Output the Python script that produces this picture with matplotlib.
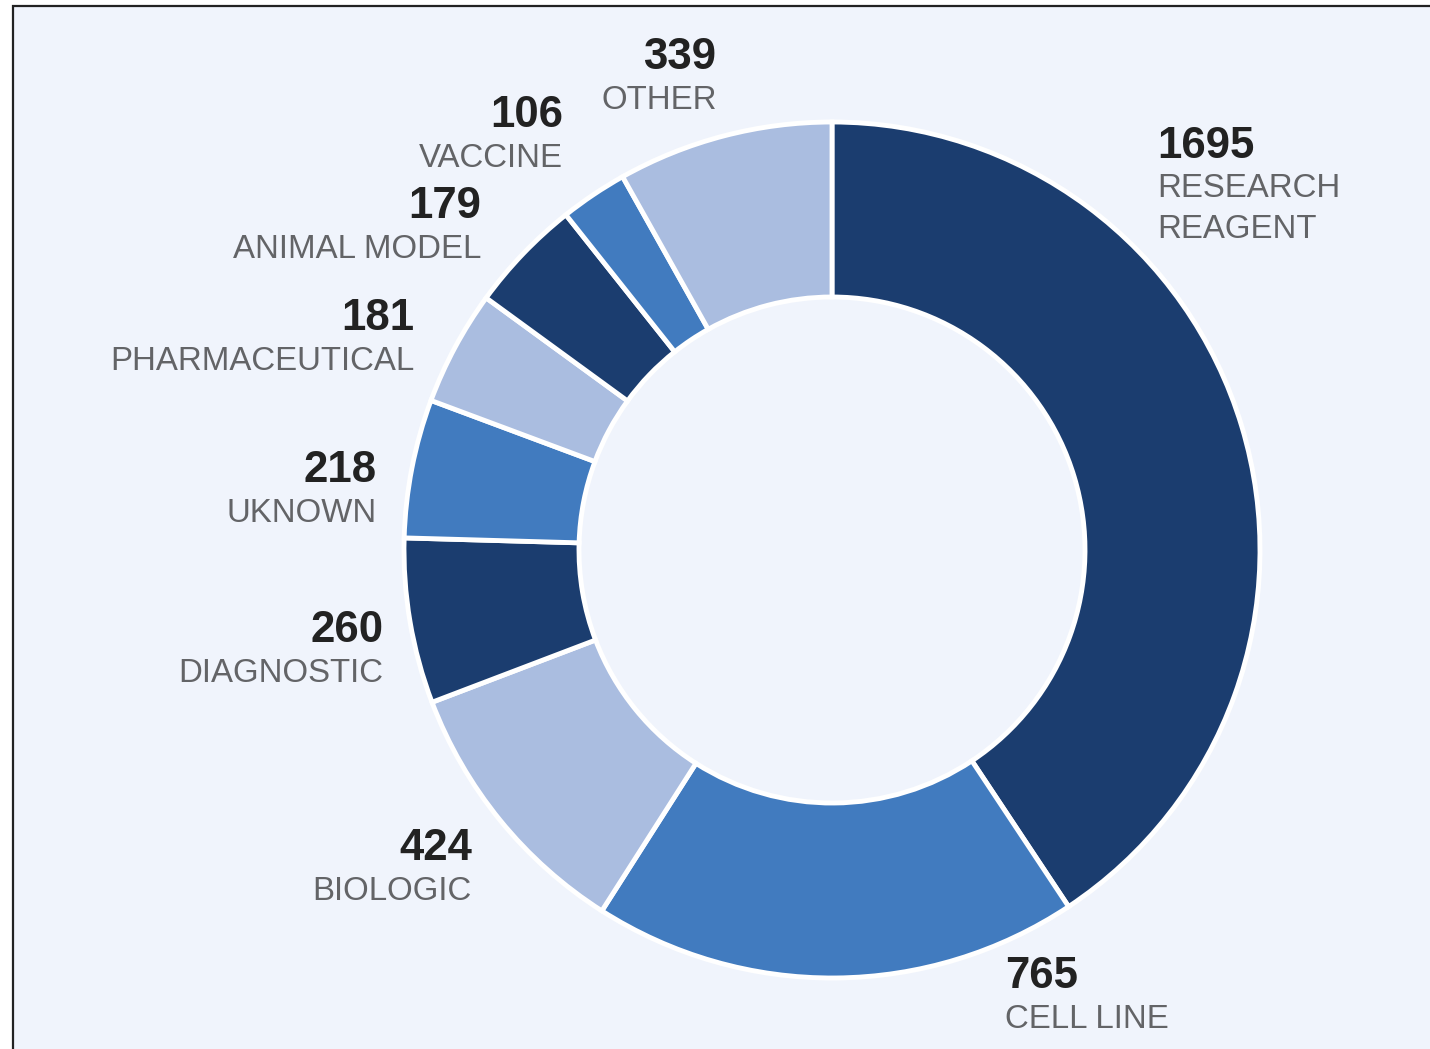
import numpy as np
import matplotlib.pyplot as plt
from matplotlib.patches import Rectangle

plt.rcParams['font.family'] = ['Liberation Sans', 'DejaVu Sans']

# Data
categories = ['RESEARCH\nREAGENT', 'CELL LINE', 'BIOLOGIC', 'DIAGNOSTIC', 'UKNOWN',
              'PHARMACEUTICAL', 'ANIMAL MODEL', 'VACCINE', 'OTHER']
counts = [1695, 765, 424, 260, 218, 181, 179, 106, 339]

DARK, MID, LIGHT = '#1b3d6f', '#417bbf', '#aabde0'
colors = [DARK, MID, LIGHT] * 3

# label placement: (deg clockwise from top, distance from centre) of the
# label block's inner edge midpoint
label_pos = {
    'RESEARCH\nREAGENT': (41.5, 491), 'CELL LINE': (158.6, 475),
    'BIOLOGIC': (228.9, 478), 'DIAGNOSTIC': (257.9, 459), 'UKNOWN': (278.0, 460),
    'PHARMACEUTICAL': (297.3, 470), 'ANIMAL MODEL': (313.1, 480),
    'VACCINE': (327.3, 498), 'OTHER': (346.4, 491),
}

W, H = 1430, 1049
fig = plt.figure(figsize=(W / 100, H / 100), dpi=100, facecolor='white')
ax = fig.add_axes([0, 0, 1, 1])

cx, cy = 832, H - 550
r_out, r_in = 428, 253

# panel background with the dark frame on top/left
ax.add_patch(Rectangle((13, -50), W + 100, (H - 6) + 50, facecolor='#f0f4fc',
                       edgecolor='#222222', linewidth=1.6, zorder=0))

ax.pie(counts, radius=r_out, center=(cx, cy), startangle=90, counterclock=False,
       colors=colors, wedgeprops=dict(width=r_out - r_in, edgecolor='white', linewidth=3.5))

ax.set_xlim(0, W)
ax.set_ylim(0, H)
ax.set_aspect('auto')
ax.axis('off')

# labels
for name, val in zip(categories, counts):
    a, r = label_pos[name]
    vx, vy = np.sin(np.radians(a)), np.cos(np.radians(a))
    px, py = cx + r * vx, cy + r * vy
    ha = 'left' if vx > 0 else 'right'
    n = name.count('\n') + 1
    block = 30 + 40 * n
    base = py + block / 2 - 31
    ax.text(px, base, str(val), ha=ha, va='baseline', fontsize=31.5,
            fontweight='bold', color='#222222')
    ax.text(px, base - 40 * n, name, ha=ha, va='baseline', fontsize=23.8,
            color='#636467', linespacing=1.43, multialignment=ha)

fig.savefig('out.png', dpi=100, facecolor=fig.get_facecolor())
